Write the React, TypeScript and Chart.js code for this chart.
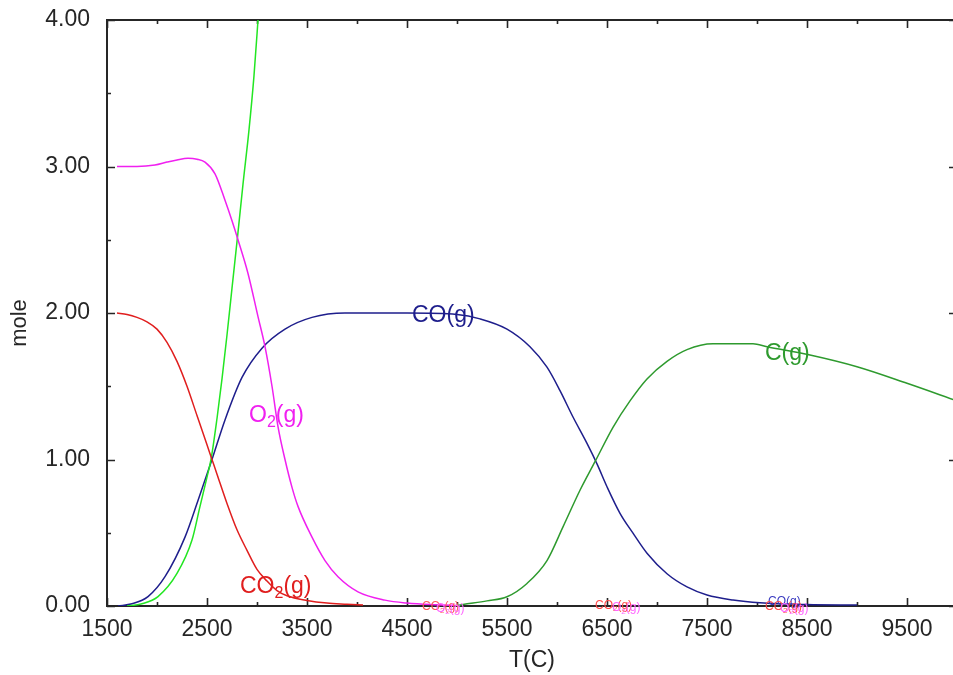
import { useEffect, useRef } from 'react';
import { Chart, registerables } from 'chart.js';

Chart.register(...registerables);

// ---- Data (temperature in °C, amount in mole) ----
const co2T = [1600, 1700, 1800, 1900, 2000, 2100, 2200, 2300, 2400, 2500, 2550, 2600, 2700, 2800, 2900, 3000, 3100, 3200, 3300, 3500, 3700, 3900, 4060];
const co2V = [2.0, 1.99, 1.97, 1.94, 1.89, 1.8, 1.67, 1.5, 1.3, 1.1, 1.0, 0.9, 0.7, 0.52, 0.38, 0.25, 0.17, 0.105, 0.07, 0.038, 0.02, 0.012, 0.006];

const o2T = [1600, 1800, 1980, 2100, 2200, 2310, 2400, 2480, 2580, 2680, 2750, 2810, 2910, 3010, 3080, 3150, 3210, 3280, 3350, 3410, 3550, 3680, 3810, 4010, 4280, 4500, 4800, 5000];
const o2V = [3.0, 3.0, 3.01, 3.03, 3.045, 3.056, 3.05, 3.03, 2.95, 2.77, 2.63, 2.5, 2.27, 1.975, 1.77, 1.5, 1.225, 1.0, 0.81, 0.68, 0.47, 0.31, 0.2, 0.097, 0.04, 0.02, 0.008, 0.003];

const coT = [1610, 1750, 1910, 2080, 2280, 2410, 2550, 2680, 2850, 3050, 3280, 3550, 3880, 4500, 5000, 5230, 5500, 5730, 5900, 6030, 6160, 6300, 6400, 6500, 6630, 6760, 6900, 7100, 7300, 7500, 7760, 8030, 8500, 9000];
const coV = [0.0, 0.015, 0.064, 0.2, 0.47, 0.72, 1.0, 1.27, 1.56, 1.76, 1.89, 1.97, 2.0, 2.0, 1.99, 1.96, 1.89, 1.77, 1.63, 1.47, 1.29, 1.11, 0.97, 0.814, 0.633, 0.497, 0.36, 0.22, 0.13, 0.075, 0.041, 0.022, 0.01, 0.006];

const cT = [5000, 5060, 5300, 5500, 5700, 5900, 6060, 6230, 6380, 6560, 6730, 6900, 7100, 7300, 7560, 7960, 8100, 8530, 9000, 9500, 10000];
const cV = [0.003, 0.01, 0.035, 0.063, 0.154, 0.31, 0.54, 0.79, 0.985, 1.22, 1.4, 1.55, 1.67, 1.75, 1.79, 1.79, 1.77, 1.713, 1.633, 1.52, 1.4];

const oT = [1700, 1850, 2010, 2200, 2350, 2430, 2500, 2540, 2600, 2650, 2700, 2750, 2810, 2860, 2920, 2970, 3010, 3060];
const oV = [0.0, 0.015, 0.064, 0.222, 0.45, 0.68, 0.88, 1.0, 1.28, 1.55, 1.85, 2.17, 2.55, 2.88, 3.25, 3.62, 4.0, 4.5];

// ---- Axis ticks ----
const xTickValues = [1500, 2000, 2500, 3000, 3500, 4000, 4500, 5000, 5500, 6000, 6500, 7000, 7500, 8000, 8500, 9000, 9500];
const xMajorLabels = [1500, 2500, 3500, 4500, 5500, 6500, 7500, 8500, 9500];
const yTickValues = [0, 0.5, 1, 1.5, 2, 2.5, 3, 3.5, 4];
const yMajorLabels = [0, 1, 2, 3, 4];

// ---- Curve labels (left, baseline in data coordinates) ----
const labelText = ['CO(g)', 'C(g)', 'O2(g)', 'CO2(g)'];
const labelT = [4550, 8080, 2920, 2830];
const labelV = [1.94, 1.68, 1.256, 0.089];
const labelColor = ['#1e1e8c', '#2e9a2e', '#f020f0', '#e01e1e'];

// small overlapping labels of minor species near the baseline
const smallText = ['CO2(g)', 'O2(g)', 'CO2(g)', 'O2(g)', 'CO(g)', 'CO2(g)', 'O2(g)'];
const smallT = [4650, 4790, 6380, 6550, 8110, 8080, 8230];
const smallV = [-0.03, -0.04, -0.02, -0.035, 0.01, -0.03, -0.04];
const smallColor = ['#ff5a5a', '#ff66ff', '#ff4a4a', '#ff66ff', '#3a3ac0', '#ff4a4a', '#ff66ff'];

const FAM = '"Liberation Sans", Arial, sans-serif';

function drawSubLabel(ctx: CanvasRenderingContext2D, text: string, x: number, y: number, size: number, color: string) {
  ctx.fillStyle = color;
  ctx.textAlign = 'left';
  ctx.textBaseline = 'alphabetic';
  let cx = x;
  let run = '';
  const flush = () => {
    if (!run) return;
    ctx.font = `${size}px ${FAM}`;
    ctx.fillText(run, cx, y);
    cx += ctx.measureText(run).width;
    run = '';
  };
  for (const ch of text) {
    if (/[0-9]/.test(ch)) {
      flush();
      const s = Math.round(size * 0.68);
      ctx.font = `${s}px ${FAM}`;
      ctx.fillText(ch, cx, y + size * 0.2);
      cx += ctx.measureText(ch).width;
    } else {
      run += ch;
    }
  }
  flush();
}

export default function App() {
  const ref = useRef<HTMLCanvasElement>(null);

  useEffect(() => {
    document.body.style.margin = '0';
    const canvas = ref.current;
    if (!canvas) return;
    const pts = (t: number[], v: number[]) => t.map((x, i) => ({ x, y: v[i] }));

    const framePlugin = {
      id: 'frameTicks',
      beforeDatasetsDraw(chart: any) {
        const { ctx, chartArea: a, scales } = chart;
        const x = scales.x;
        const y = scales.y;
        ctx.save();
        ctx.strokeStyle = '#262626';
        ctx.lineWidth = 2;
        ctx.beginPath();
        ctx.moveTo(a.left, a.top);
        ctx.lineTo(a.right, a.top);
        ctx.lineTo(a.right, a.bottom);
        ctx.lineTo(a.left, a.bottom);
        ctx.closePath();
        ctx.stroke();
        ctx.lineWidth = 1.6;
        ctx.beginPath();
        xTickValues.forEach((v) => {
          const px = Math.round(x.getPixelForValue(v)) + 0.5;
          const len = xMajorLabels.includes(v) ? 8 : 4;
          ctx.moveTo(px, a.bottom);
          ctx.lineTo(px, a.bottom - len);
          ctx.moveTo(px, a.top);
          ctx.lineTo(px, a.top + len);
        });
        yTickValues.forEach((v) => {
          const py = Math.round(y.getPixelForValue(v)) + 0.5;
          const len = yMajorLabels.includes(v) ? 8 : 4;
          ctx.moveTo(a.left, py);
          ctx.lineTo(a.left + len, py);
          ctx.moveTo(a.right, py);
          ctx.lineTo(a.right - len, py);
        });
        ctx.stroke();
        ctx.restore();
      },
      afterDatasetsDraw(chart: any) {
        const { ctx, scales } = chart;
        const x = scales.x;
        const y = scales.y;
        ctx.save();
        smallText.forEach((t, i) => {
          drawSubLabel(ctx, t, x.getPixelForValue(smallT[i]), y.getPixelForValue(smallV[i]), 12, smallColor[i]);
        });
        labelText.forEach((t, i) => {
          drawSubLabel(ctx, t, x.getPixelForValue(labelT[i]), y.getPixelForValue(labelV[i]), 23, labelColor[i]);
        });
        // y axis title
        ctx.translate(20, 323);
        ctx.rotate(-Math.PI / 2);
        ctx.font = `22px ${FAM}`;
        ctx.fillStyle = '#262626';
        ctx.textAlign = 'center';
        ctx.textBaseline = 'middle';
        ctx.fillText('mole', 0, 0);
        ctx.restore();
      },
    };

    const common = { borderWidth: 1.5, pointRadius: 0, fill: false, cubicInterpolationMode: 'monotone' as const };

    const chart = new Chart(canvas, {
      type: 'line',
      data: {
        datasets: [
          { label: 'CO2(g)', data: pts(co2T, co2V), borderColor: '#e01e1e', ...common },
          { label: 'O2(g)', data: pts(o2T, o2V), borderColor: '#f020f0', ...common },
          { label: 'O(g)', data: pts(oT, oV), borderColor: '#22e622', ...common },
          { label: 'C(g)', data: pts(cT, cV), borderColor: '#2e9a2e', ...common },
          { label: 'CO(g)', data: pts(coT, coV), borderColor: '#1e1e8c', ...common },
        ],
      },
      options: {
        responsive: false,
        animation: false,
        devicePixelRatio: 1,
        parsing: false as any,
        layout: { padding: { top: 20, right: 3, left: 0, bottom: 0 } },
        plugins: { legend: { display: false }, tooltip: { enabled: false } },
        scales: {
          x: {
            type: 'linear',
            min: 1500,
            max: 10000,
            afterBuildTicks: (s: any) => {
              s.ticks = xTickValues.map((v) => ({ value: v }));
            },
            afterFit: (s: any) => {
              s.height = 69;
            },
            grid: { display: false, drawTicks: true, tickLength: 10 },
            border: { display: false },
            ticks: {
              autoSkip: false,
              maxRotation: 0,
              padding: 0,
              color: '#262626',
              font: { family: FAM, size: 23 },
              callback: (v: any) => (xMajorLabels.includes(Number(v)) ? String(v) : ''),
            },
            title: {
              display: true,
              text: 'T(C)',
              color: '#262626',
              font: { family: FAM, size: 23 },
              padding: { top: 0, bottom: 1 },
            },
          },
          y: {
            type: 'linear',
            min: 0,
            max: 4,
            afterBuildTicks: (s: any) => {
              s.ticks = yTickValues.map((v) => ({ value: v }));
            },
            afterFit: (s: any) => {
              s.width = 107;
            },
            grid: { display: false, drawTicks: true, tickLength: 17 },
            border: { display: false },
            ticks: {
              padding: 0,
              color: '#262626',
              font: { family: FAM, size: 23 },
              callback: (v: any) => (yMajorLabels.includes(Number(v)) ? Number(v).toFixed(2) : ''),
            },
          },
        },
      },
      plugins: [framePlugin],
    });

    return () => chart.destroy();
  }, []);

  return (
    <div style={{ position: 'fixed', left: 0, top: 0, width: 953, height: 675, overflow: 'hidden', background: '#fff' }}>
      <canvas ref={ref} width={960} height={675} style={{ display: 'block' }} />
    </div>
  );
}
